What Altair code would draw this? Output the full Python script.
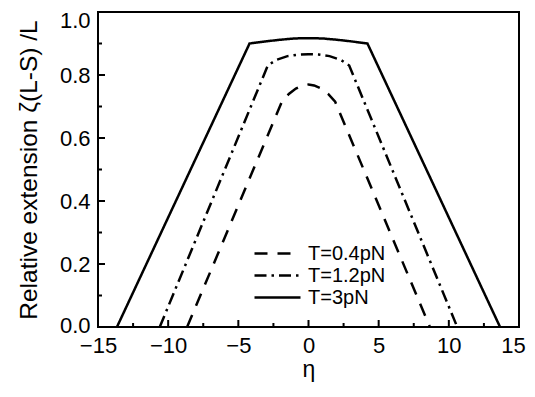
import altair as alt
import pandas as pd

series = ["T=0.4pN", "T=1.2pN", "T=3pN"]

eta_04 = [-8.65, -1.9, -1.4, -0.9, -0.4, 0.0, 0.4, 0.9, 1.4, 1.9, 8.65]
ext_04 = [0.0, 0.715, 0.74, 0.757, 0.767, 0.77, 0.767, 0.757, 0.74, 0.715, 0.0]

eta_12 = [-10.6, -2.9, -2.3, -1.5, -0.7, 0.0, 0.7, 1.5, 2.3, 2.9, 10.6]
ext_12 = [0.0, 0.83, 0.848, 0.86, 0.865, 0.866, 0.865, 0.86, 0.848, 0.83, 0.0]

eta_3 = [-13.65, -4.2, -3.0, -2.0, -1.0, 0.0, 1.0, 2.0, 3.0, 4.2, 13.65]
ext_3 = [0.0, 0.90, 0.907, 0.912, 0.916, 0.917, 0.916, 0.912, 0.907, 0.90, 0.0]

x_major = [-15, -10, -5, 0, 5, 10, 15]
x_minor = [-12.5, -7.5, -2.5, 2.5, 7.5, 12.5]
y_major = [0.0, 0.2, 0.4, 0.6, 0.8, 1.0]
y_minor = [0.1, 0.3, 0.5, 0.7, 0.9]

rows = []
for name, xs, ys in [(series[0], eta_04, ext_04), (series[1], eta_12, ext_12), (series[2], eta_3, ext_3)]:
    for a, b in zip(xs, ys):
        rows.append({"series": name, "eta": a, "ext": b})
df = pd.DataFrame(rows)

FONT = "Liberation Sans"
W, H = 421, 315

xscale = alt.Scale(domain=[-15, 15], nice=False, zero=False)
yscale = alt.Scale(domain=[0, 1], nice=False, zero=False)

xaxis = alt.Axis(values=x_major, format="d", domain=False, ticks=False, tickSize=0, grid=False,
                 labelFontSize=22, labelFont=FONT, labelColor="black", labelPadding=8,
                 labelOffset={"condition": {"test": "datum.value >= 15", "value": -6}, "value": 0},
                 title="η", titleFontSize=23, titleFont=FONT, titleFontWeight="normal",
                 titleColor="black", titlePadding=2, labelFlush=False)
yaxis = alt.Axis(values=y_major, format=".1f", domain=False, ticks=False, tickSize=0, grid=False,
                 labelFontSize=22, labelFont=FONT, labelColor="black", labelPadding=8,
                 labelOffset={"condition": [{"test": "datum.value >= 1", "value": 8},
                                            {"test": "datum.value <= 0", "value": -2}], "value": 0},
                 title="Relative extension ζ(L-S) /L", titleFontSize=24.5, titleFont=FONT,
                 titleFontWeight="normal", titleColor="black", titlePadding=18, labelFlush=False)

lines = alt.Chart(df).mark_line(color="black", strokeWidth=2.5, clip=True).encode(
    x=alt.X("eta:Q", scale=xscale, axis=xaxis),
    y=alt.Y("ext:Q", scale=yscale, axis=yaxis),
    strokeDash=alt.StrokeDash(
        "series:N",
        scale=alt.Scale(domain=series, range=[[13, 10], [12, 5, 2.5, 5], [1, 0]]),
        legend=alt.Legend(title=None, orient="none", legendX=168, legendY=230,
                          symbolType="M-2.3,0H2.3", symbolSize=400, symbolStrokeWidth=2.5,
                          symbolStrokeColor="black", symbolFillColor="transparent",
                          labelFontSize=20, labelFont=FONT,
                          labelColor="black", rowPadding=0, labelOffset=19, padding=0),
    ),
    detail="series:N",
)

xmaj = pd.DataFrame({"eta": x_major})
xmin = pd.DataFrame({"eta": x_minor})
ymaj = pd.DataFrame({"ext": y_major})
ymin = pd.DataFrame({"ext": y_minor})

def xticks(d, length):
    return alt.Chart(d).mark_rule(color="black", strokeWidth=2).encode(
        x=alt.X("eta:Q", scale=xscale, axis=xaxis),
        y=alt.value(H), y2=alt.value(H - length))

def yticks(d, length):
    return alt.Chart(d).mark_rule(color="black", strokeWidth=2).encode(
        y=alt.Y("ext:Q", scale=yscale, axis=yaxis),
        x=alt.value(0), x2=alt.value(length))

chart = alt.layer(
    lines,
    xticks(xmaj, 7), xticks(xmin, 4),
    yticks(ymaj, 7), yticks(ymin, 4),
).properties(
    width=W, height=H,
    padding={"left": 90, "top": 4, "right": 8, "bottom": 57},
    autosize=alt.AutoSizeParams(type="none"),
    background="white",
).configure_view(stroke="black", strokeWidth=2)

chart.save("out.html", embed_options={"renderer": "svg", "actions": False})
